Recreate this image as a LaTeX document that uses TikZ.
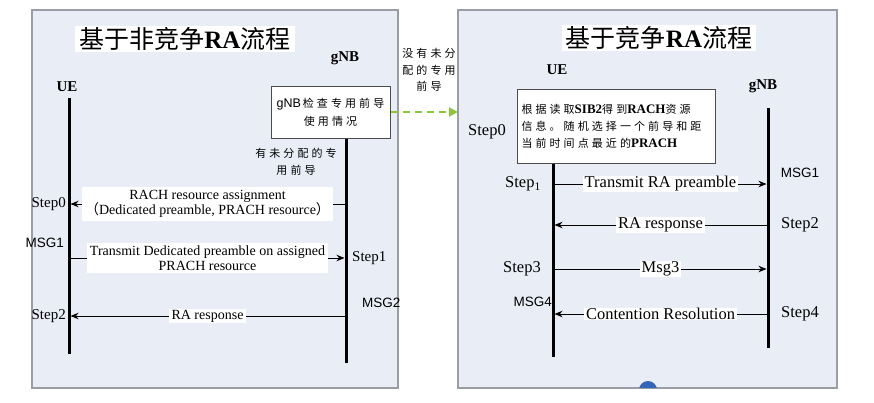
\documentclass[tikz,border=0pt]{standalone}
\usepackage{fontspec}
\setmainfont{Liberation Serif}
\newfontfamily\sansf{Liberation Sans}
\newfontfamily\cjkf{Noto Sans CJK SC}
\newfontfamily\cjks[LetterSpace=28]{Noto Sans CJK SC}
\usetikzlibrary{arrows.meta}
\definecolor{panelbg}{HTML}{E9EEF6}
\definecolor{panelline}{HTML}{9A9DA3}
\definecolor{dashgreen}{HTML}{8CC63E}
\definecolor{dotblue}{HTML}{3366B8}
\newcommand\latb[1]{{\fontsize{13}{17}\selectfont\bfseries #1}}
\tikzset{
  panel/.style={draw=panelline, line width=1.2pt, fill=panelbg, inner sep=0pt, outer sep=0pt, anchor=north west},
  titlebox/.style={fill=white, inner xsep=4pt, inner ysep=1.5pt, font=\fontsize{25}{28}\selectfont},
  actor/.style={font=\fontsize{15}{17}\selectfont\bfseries, inner sep=1pt},
  lifeline/.style={line width=3pt},
  msg/.style={line width=1pt, shorten >=1.5pt, -{Stealth[length=8pt,width=6.5pt]}},
  msglabel/.style={fill=white, inner xsep=3pt, inner ysep=1pt, align=center, font=\fontsize{14}{15.5}\selectfont},
  rmsglabel/.style={fill=white, inner xsep=2pt, inner ysep=0.5pt, font=\fontsize{16.5}{18}\selectfont},
  steplabel/.style={font=\fontsize{15}{17}\selectfont, inner sep=1pt},
  rsteplabel/.style={font=\fontsize{16.5}{18}\selectfont, inner sep=1pt},
  msgid/.style={font=\sansf\fontsize{13.5}{15}\selectfont, inner sep=1pt},
  cjknote/.style={align=center, font=\fontsize{11}{16.5}\selectfont\cjks, inner sep=0pt},
  whitebox/.style={draw=black!70, line width=1pt, fill=white},
  greendash/.style={draw=dashgreen, line width=2pt, dash pattern=on 7pt off 5pt, -{Triangle[length=9pt,width=9pt,fill=dashgreen]}},
}
\begin{document}
\begin{tikzpicture}[x=1pt,y=-1pt]
\path[use as bounding box, fill=white] (0,0) rectangle (874,402);

% panels
\node[panel, minimum width=366pt, minimum height=378pt] (lp) at (32,10) {};
\node[panel, minimum width=379pt, minimum height=378pt] (rp) at (458,10) {};
\begin{scope}
  \clip (458,10) rectangle (837,387.3);
  \fill[dotblue] (648,390) circle (9pt);
\end{scope}

% titles
\node[titlebox] (lt) at (185,39) {{\cjkf 基于非竞争}{\bfseries RA}{\cjkf 流程}};
\node[titlebox] (rt) at (659,38) {{\cjkf 基于竞争}{\bfseries RA}{\cjkf 流程}};

% ===== left panel =====
\node[actor] (lue) at (67,87) {UE};
\node[actor] (lgnb) at (345,58) {gNB};
\node[whitebox, minimum width=119pt, minimum height=52pt, align=center, inner sep=2pt,
      font=\fontsize{11}{18}\selectfont] (chk) at (330.5,112)
  {{\sansf\fontsize{12.5}{18}\selectfont gNB}\,{\cjks 检查专用前导}\\{\cjks 使用情况}};

\coordinate (lueTop) at (69,98);
\coordinate (lueBot) at (69,354);
\coordinate (lgBot) at (346,363);
\draw[lifeline] (lueTop) -- (lueBot);
\draw[lifeline] (chk.south -| lgBot) -- (lgBot);

\node[cjknote] (yes) at (296,162) {有未分配的专\\用前导};

\coordinate (lg0) at (346,204);
\coordinate (lu0) at (69,204);
\draw[msg] (lg0) -- (lu0)
  node[midway, msglabel, minimum width=246pt, minimum height=34pt] (lm0)
  {RACH resource assignment\\{\cjkf （}Dedicated preamble, PRACH resource{\cjkf ）}};
\node[steplabel, anchor=east] (ls0) at (67,204) {Step0};

\coordinate (lu1) at (69,258);
\coordinate (lg1) at (346,258);
\draw[msg] (lu1) -- (lg1)
  node[midway, msglabel, minimum width=239pt, minimum height=30pt] (lm1)
  {Transmit Dedicated preamble on assigned\\PRACH resource};
\node[msgid, anchor=east] (lid1) at (65,243) {MSG1};
\node[steplabel, anchor=west] (ls1) at (351,258) {Step1};
\node[msgid, anchor=west] (lid2) at (361,303) {MSG2};

\coordinate (lg2) at (346,316);
\coordinate (lu2) at (69,316);
\draw[msg] (lg2) -- (lu2) node[midway, msglabel] (lm2) {RA response};
\node[steplabel, anchor=east] (ls2) at (67,316) {Step2};

% ===== connection =====
\draw[greendash] (chk.east) -- (chk.east -| rp.west);
\node[cjknote] (no) at (429,70) {没有未分\\配的专用\\前导};

% ===== right panel =====
\node[actor] (rue) at (557,70) {UE};
\node[actor] (rgnb) at (763,86) {gNB};
\node[whitebox, minimum width=198pt, minimum height=74pt, anchor=north west,
      text width=190pt, align=left, inner xsep=4pt, inner ysep=2pt,
      font=\fontsize{11}{17}\selectfont] (sib) at (517,89)
  {{\cjks 根据读取}\latb{SIB2}{\cjks 得到}\latb{RACH}{\cjks 资源}\\
   {\cjks 信息。随机选择一个前导和距}\\
   {\cjks 当前时间点最近的}\latb{PRACH}};
\node[rsteplabel] (rs0) at (487,132) {Step0};

\coordinate (ruBot) at (553,357);
\coordinate (rgTop) at (768,108);
\coordinate (rgBot) at (768,348);
\draw[lifeline] (sib.south -| ruBot) -- (ruBot);
\draw[lifeline] (rgTop) -- (rgBot);

\coordinate (ru1) at (553,184);
\coordinate (rg1) at (768,184);
\draw[msg] (ru1) -- (rg1) node[midway, rmsglabel] (rm1) {Transmit RA preamble};
\node[rsteplabel] (rs1) at (523,184) {Step\textsubscript{1}};
\node[msgid] (rid1) at (800,173) {MSG1};

\coordinate (rg2) at (768,225);
\coordinate (ru2) at (553,225);
\draw[msg] (rg2) -- (ru2) node[midway, rmsglabel] (rm2) {RA response};
\node[rsteplabel] (rs2) at (800,225) {Step2};

\coordinate (ru3) at (553,269);
\coordinate (rg3) at (768,269);
\draw[msg] (ru3) -- (rg3) node[midway, rmsglabel] (rm3) {Msg3};
\node[rsteplabel] (rs3) at (522,269) {Step3};
\node[msgid, anchor=east] (rid4) at (553,302) {MSG4};

\coordinate (rg4) at (768,314);
\coordinate (ru4) at (553,314);
\draw[msg] (rg4) -- (ru4) node[midway, rmsglabel] (rm4) {Contention Resolution};
\node[rsteplabel] (rs4) at (800,314) {Step4};
\end{tikzpicture}
\end{document}
